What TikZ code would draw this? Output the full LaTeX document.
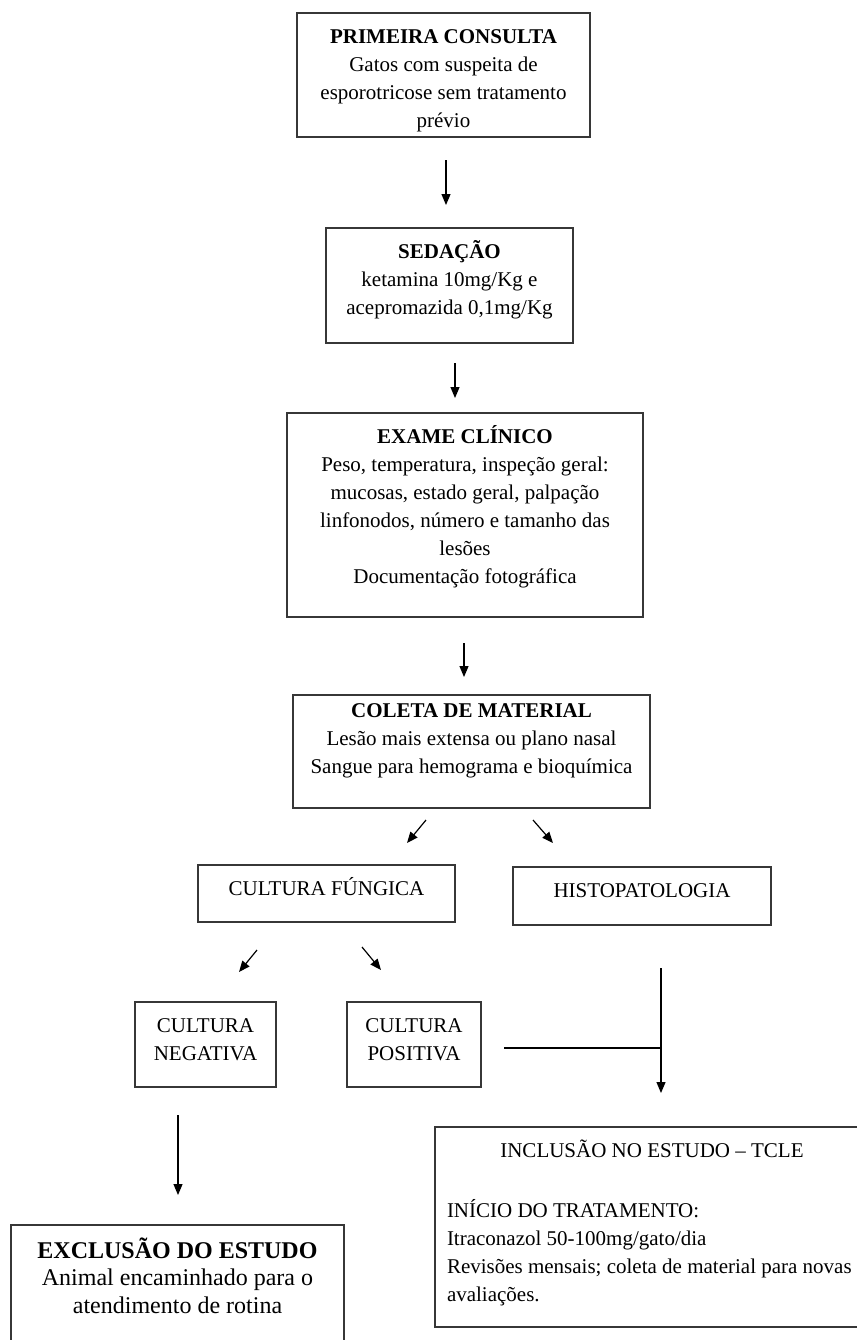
\documentclass[tikz,border=0pt]{standalone}
\usepackage{fontspec}
\setmainfont{Liberation Serif}
\usepackage{tikz}
\usetikzlibrary{arrows.meta}
\definecolor{borda}{RGB}{55,55,55}
\newcommand{\boxtext}[4][15pt]{\parbox[c][#3][t]{#2}{\centering\rule{0pt}{#1}#4}}
\newcommand{\drawarrow}{\draw[line width=.6pt,-{Triangle[length=5.5pt,width=4.5pt]}]}
\tikzset{caixa/.style={draw=borda,line width=.9pt,inner sep=0pt,outer sep=0pt,anchor=north west,font=\fontsize{10.5}{14}\selectfont}}

\begin{document}
\begin{tikzpicture}[x=.5pt,y=-.5pt]
\useasboundingbox (0,0) rectangle (857,1340);
\node[caixa] (consulta) at (297,13) {\boxtext{146.5pt}{62pt}{\textbf{PRIMEIRA CONSULTA}\\Gatos com suspeita de\\esporotricose sem tratamento\\prévio}};
\node[caixa] (sedacao) at (326,228) {\boxtext{123.5pt}{57.5pt}{\textbf{SEDAÇÃO}\\ketamina 10mg/Kg e\\acepromazida 0,1mg/Kg}};
\node[caixa] (exame) at (287,413) {\boxtext{178pt}{102pt}{\textbf{EXAME CLÍNICO}\\Peso, temperatura, inspeção geral:\\mucosas, estado geral, palpação\\linfonodos, número e tamanho das\\lesões\\Documentação fotográfica}};
\node[caixa] (coleta) at (293,695) {\boxtext[11pt]{178.5pt}{56.5pt}{\textbf{COLETA DE MATERIAL}\\Lesão mais extensa ou plano nasal\\Sangue para hemograma e bioquímica}};
\node[caixa] (fungica) at (198,865) {\boxtext{128.5pt}{28.5pt}{CULTURA FÚNGICA}};
\node[caixa] (histo) at (513,867) {\boxtext{129pt}{29pt}{HISTOPATOLOGIA}};
\node[caixa] (negativa) at (135,1002) {\boxtext{70.5pt}{42.5pt}{CULTURA\\NEGATIVA}};
\node[caixa] (positiva) at (347,1002) {\boxtext{67pt}{42.5pt}{CULTURA\\POSITIVA}};
\node[caixa] (exclusao) at (11,1225) {\boxtext[16.5pt]{166.5pt}{70pt}{\fontsize{12}{13.75}\selectfont\textbf{EXCLUSÃO DO ESTUDO}\\Animal encaminhado para o\\atendimento de rotina}};
\node[caixa] (inclusao) at (435,1127) {\parbox[c][100pt][t]{217pt}{\centering\rule{0pt}{15pt}INCLUSÃO NO ESTUDO – TCLE\par\vspace{16pt}\raggedright\leftskip=6pt INÍCIO DO TRATAMENTO:\\Itraconazol 50-100mg/gato/dia\\Revisões mensais; coleta de material para novas\\avaliações.}};
\coordinate (juncao) at (661,1048);
\drawarrow ([shift={(2.5,23)}]consulta.south) -- ++(0,45);
\drawarrow ([shift={(5.5,20)}]sedacao.south) -- ++(0,35);
\drawarrow ([shift={(-1,26)}]exame.south) -- ++(0,34);
\drawarrow ([shift={(-45.5,12)}]coleta.south) -- ++(-19,23);
\drawarrow ([shift={(61.5,12)}]coleta.south) -- ++(20,23);
\drawarrow ([shift={(-69.5,28)}]fungica.south) -- ++(-18,22);
\drawarrow ([shift={(35.5,25)}]fungica.south) -- ++(19,23);
\drawarrow ([shift={(-27.5,28)}]negativa.south) -- ++(0,80);
\draw[line width=.6pt] ([shift={(23,3.5)}]positiva.east) -- (juncao);
\drawarrow ([shift={(19,43)}]histo.south) -- (juncao) -- ++(0,45);
\end{tikzpicture}
\end{document}
